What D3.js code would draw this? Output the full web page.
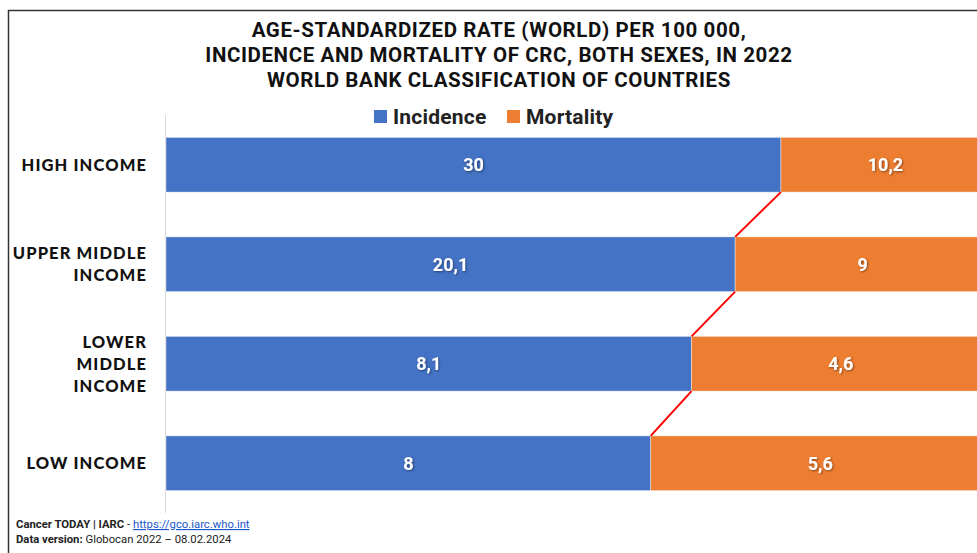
<!DOCTYPE html>
<html>
<head>
<meta charset="utf-8">
<script src="https://cdn.jsdelivr.net/npm/d3@7"></script>
<style>
  body { margin: 0; background: #fff; }
  svg { display: block; font-family: "Lato", "Open Sans", sans-serif; }
  .cat { font-weight: 900; font-size: 16.5px; letter-spacing: 1.1px; fill: #111; }
  .val { font-weight: 700; font-size: 18px; fill: #fff; font-family: "Roboto", sans-serif; }
</style>
</head>
<body>
<div id="chart"></div>
<script>
// chart values
var categories = ["HIGH INCOME", "UPPER MIDDLE INCOME", "LOWER MIDDLE INCOME", "LOW INCOME"]
var catLines = [["HIGH INCOME"], ["UPPER MIDDLE", "INCOME"], ["LOWER", "MIDDLE", "INCOME"], ["LOW INCOME"]]
var incidence = [30, 20.1, 8.1, 8]
var mortality = [10.2, 9, 4.6, 5.6]
var seriesNames = ["Incidence", "Mortality"]
var titleLines = ["AGE-STANDARDIZED RATE (WORLD) PER 100 000,",
  "INCIDENCE AND MORTALITY OF CRC, BOTH SEXES, IN 2022",
  "WORLD BANK CLASSIFICATION OF COUNTRIES"]

var width = 977,
    height = 553,
    margin = {top: 115, bottom: 40, left: 166, right: -13}

var colors = {Incidence: "#4472C4", Mortality: "#ED7D31"}
var fmt = d3.formatLocale({decimal: ",", thousands: " ", grouping: [3], currency: ["", ""]}).format(",")

var rows = categories.map(function(c, i) {
  return {cat: c, Incidence: incidence[i], Mortality: mortality[i]}
})

var svg = d3.select("#chart")
  .append("svg")
  .attr("width", width)
  .attr("height", height)

// frame (right and bottom edges are cut off in the picture)
svg.append("path")
  .attr("d", "M8.5," + height + "V10.5H" + width)
  .attr("fill", "none")
  .attr("stroke", "#333")
  .attr("stroke-width", 1.5)

var y = d3.scaleBand()
  .domain(categories)
  .range([margin.top, 513])
  .paddingInner(0.45)
  .paddingOuter(0.225)

var x = d3.scaleLinear()
  .domain([0, 1])
  .range([margin.left, width - margin.right])

var stack = d3.stack().keys(seriesNames).offset(d3.stackOffsetExpand)
var layers = stack(rows)

// axis line
svg.append("line")
  .attr("x1", margin.left - 0.5).attr("x2", margin.left - 0.5)
  .attr("y1", margin.top).attr("y2", 513)
  .attr("stroke", "#d9d9d9")

var g = svg.selectAll("g.layer")
  .data(layers)
  .enter().append("g")
  .attr("class", "layer")
  .attr("fill", function(d) { return colors[d.key] })

g.selectAll("rect")
  .data(function(d) { return d })
  .enter().append("rect")
  .attr("x", function(d) { return x(d[0]) })
  .attr("y", function(d) { return y(d.data.cat) })
  .attr("width", function(d) { return x(d[1]) - x(d[0]) })
  .attr("height", y.bandwidth())
  .attr("stroke", "#fff")
  .attr("stroke-opacity", 0.5)
  .attr("stroke-width", 0.8)

// series lines between blue ends
var ends = layers[0]
var conn = []
for (var i = 0; i < ends.length - 1; i++) {
  conn.push([ends[i], ends[i + 1]])
}
svg.selectAll("line.conn")
  .data(conn)
  .enter().append("line")
  .attr("class", "conn")
  .attr("x1", function(d) { return x(d[0][1]) })
  .attr("y1", function(d) { return y(d[0].data.cat) + y.bandwidth() })
  .attr("x2", function(d) { return x(d[1][1]) })
  .attr("y2", function(d) { return y(d[1].data.cat) })
  .attr("stroke", "#ff0000")
  .attr("stroke-width", 2)

// value labels
var defs = svg.append("defs")
defs.append("filter").attr("id", "sh")
  .append("feDropShadow")
  .attr("dx", 1).attr("dy", 1).attr("stdDeviation", 0.8)
  .attr("flood-color", "#000").attr("flood-opacity", 0.45)

layers.forEach(function(layer) {
  svg.selectAll(null)
    .data(layer)
    .enter().append("text")
    .attr("class", "val")
    .attr("filter", "url(#sh)")
    .attr("x", function(d) { return (x(d[0]) + x(d[1])) / 2 })
    .attr("y", function(d) { return y(d.data.cat) + y.bandwidth() / 2 })
    .attr("dy", "0.36em")
    .attr("text-anchor", "middle")
    .text(function(d) { return fmt(d.data[layer.key]) })
})

// category labels
var lineH = 22
svg.selectAll("text.cat")
  .data(categories)
  .enter().append("text")
  .attr("class", "cat")
  .attr("text-anchor", "end")
  .attr("x", 147)
  .attr("y", function(d) { return y(d) + y.bandwidth() / 2 })
  .each(function(d, i) {
    var lines = catLines[i]
    var t = d3.select(this)
    lines.forEach(function(l, j) {
      t.append("tspan")
        .attr("x", 147)
        .attr("y", y(d) + y.bandwidth() / 2 + (j - (lines.length - 1) / 2) * lineH)
        .attr("dy", "0.36em")
        .text(l)
    })
  })

// title
svg.append("g").selectAll("text")
  .data(titleLines)
  .enter().append("text")
  .attr("x", 499)
  .attr("y", function(d, i) { return 37 + i * 25 })
  .attr("text-anchor", "middle")
  .style("font-family", "Roboto, sans-serif")
  .style("font-weight", 700)
  .style("font-size", "20.5px")
  .style("letter-spacing", "0.6px")
  .attr("fill", "#111")
  .text(function(d) { return d })

// legend
var legend = svg.append("g")
var lx = [374, 507]
seriesNames.forEach(function(s, i) {
  legend.append("rect")
    .attr("x", lx[i]).attr("y", 110)
    .attr("width", 13).attr("height", 13)
    .attr("fill", colors[s])
  legend.append("text")
    .attr("x", lx[i] + 19).attr("y", 124)
    .style("font-family", "Roboto, sans-serif")
    .style("font-weight", 700)
    .style("font-size", "21px")
    .style("letter-spacing", "0.2px")
    .attr("fill", "#222")
    .text(s)
})

// footer
var f1 = svg.append("text")
  .attr("x", 16).attr("y", 528)
  .style("font-family", "Roboto, sans-serif")
  .style("font-size", "11.3px")
  .attr("fill", "#222")
f1.append("tspan").style("font-weight", 700).text("Cancer TODAY | IARC ")
f1.append("tspan").text(" - ")
f1.append("tspan").attr("fill", "#1a56c9").style("text-decoration", "underline").text("https://gco.iarc.who.int")

var f2 = svg.append("text")
  .attr("x", 16).attr("y", 543)
  .style("font-family", "Roboto, sans-serif")
  .style("font-size", "11.3px")
  .attr("fill", "#222")
f2.append("tspan").style("font-weight", 700).text("Data version:")
f2.append("tspan").text(" Globocan 2022 \u2013 08.02.2024")
</script>
</body>
</html>
